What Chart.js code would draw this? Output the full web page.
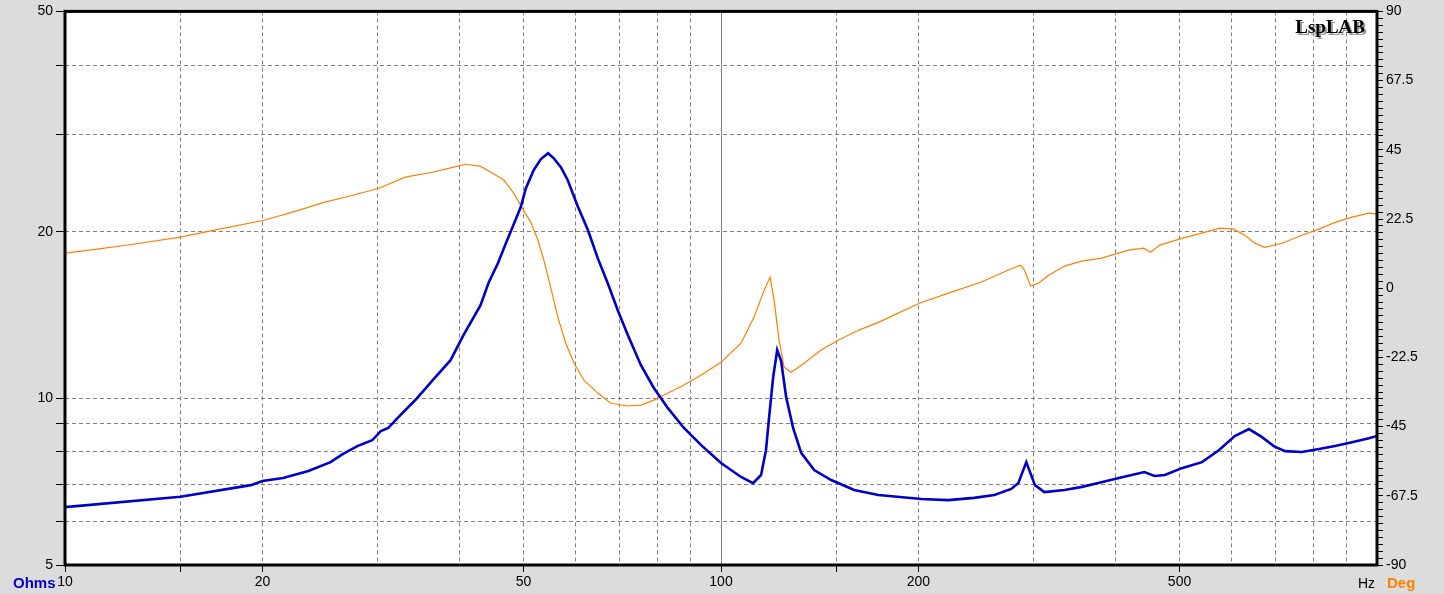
<!DOCTYPE html>
<html>
<head>
<meta charset="utf-8">
<script src="https://cdn.jsdelivr.net/npm/chart.js@4/dist/chart.umd.min.js"></script>
<style>
  html, body { margin: 0; padding: 0; background: #dcdcdc; }
  #wrap { width: 1444px; height: 594px; }
</style>
</head>
<body>
<div id="wrap"><canvas id="imp" width="1444" height="594"></canvas></div>
<script>
/* Impedance (Ohms) + phase (Deg) sweep, 10 Hz .. 1 kHz */

// impedance curve
const freqZ = [10, 15, 19.2, 20, 21.5, 23.5, 25.4, 26.5, 27.9, 29.4, 30.3, 31.1, 32.7, 34.2, 36.5,
  38.7, 40.5, 43.0, 44.2, 45.7, 47.0, 48.1, 49.5, 50.4, 51.8, 53.1, 54.5, 55.6, 57.0, 58.4,
  60.5, 62.7, 64.9, 67.2, 69.6, 72.1, 75.5, 79.0, 83.0, 87.8, 93.2, 100, 107.3, 111.9, 115.1,
  117.1, 118.4, 120.1, 121.8, 123.5, 125.7, 128.8, 132.5, 138.7, 147.2, 159.6, 173.7, 202, 222, 243,
  261, 277, 284, 292, 301, 311, 334, 355, 376, 404, 442, 458, 475, 504, 541,
  574, 607, 638, 668, 696, 724, 768, 816, 863, 916, 972, 1000];
const impedance = [6.36, 6.64, 6.97, 7.09, 7.18, 7.39, 7.67, 7.93, 8.20, 8.40, 8.73, 8.84, 9.41, 9.93, 10.84,
  11.72, 13.01, 14.73, 16.14, 17.54, 19.07, 20.37, 22.14, 23.95, 25.82, 27.03, 27.71, 27.14, 26.15, 24.78,
  22.2, 20.12, 17.9, 16.14, 14.43, 13.01, 11.48, 10.44, 9.60, 8.84, 8.24, 7.64, 7.21, 7.03, 7.27,
  8.06, 9.25, 10.92, 12.22, 11.68, 10.05, 8.84, 7.97, 7.42, 7.12, 6.83, 6.69, 6.58, 6.55, 6.61,
  6.69, 6.86, 7.03, 7.67, 6.97, 6.77, 6.83, 6.92, 7.03, 7.18, 7.36, 7.24, 7.27, 7.48, 7.67,
  8.06, 8.55, 8.80, 8.51, 8.20, 8.03, 8.00, 8.10, 8.20, 8.33, 8.47, 8.55];

// phase curve
const freqPh = [10, 11.2, 12.7, 15, 16.9, 20.1, 22.7, 24.8, 27.1, 30.1, 33.0, 36.3, 39.0, 40.8, 43.0,
  44.6, 46.7, 48.3, 50.0, 51.3, 52.6, 53.7, 55.0, 56.4, 58.0, 59.7, 61.8, 64.9, 67.9, 72.1,
  75.5, 79.0, 83.0, 87.8, 93.2, 100, 107.3, 112.3, 115.9, 118.8, 120.5, 122.6, 124.8, 127.9, 133.9,
  142.1, 150.9, 161.9, 173.7, 186.3, 200.6, 222.2, 249.4, 274.3, 286.1, 290.1, 296.4, 304.8, 315.7, 334,
  354.5, 380.4, 418.2, 441, 451.9, 466.4, 504, 540.5, 575.8, 604.9, 628.8, 651.2, 674.5, 716.1, 768.3,
  815.6, 863, 915.7, 972.3, 1000];
const phase = [11.4, 12.7, 14.3, 16.6, 18.9, 22.1, 25.3, 27.9, 29.9, 32.5, 36.1, 37.7, 39.3, 40.3, 39.6,
  37.7, 35.1, 30.9, 25.3, 21.4, 15.6, 9.1, 0.3, -9.4, -17.9, -24.4, -29.9, -34.1, -37.4, -38.3,
  -38.0, -36.4, -34.1, -31.5, -28.3, -24.1, -17.9, -9.4, -1.6, 3.6, -3.9, -16.9, -25.7, -27.3, -24.4,
  -20.1, -16.9, -13.7, -11.1, -8.1, -4.9, -1.6, 2.0, 5.9, 7.5, 5.9, 0.7, 1.6, 4.2, 7.2,
  8.8, 9.8, 12.4, 13.0, 11.7, 14.0, 16.2, 17.9, 19.5, 19.2, 17.2, 14.6, 13.3, 14.6, 17.2,
  19.2, 21.4, 23.1, 24.4, 24.1];

// axes
const xGrid = [10, 15, 20, 30, 40, 50, 60, 70, 80, 90, 100, 150, 200, 300, 400, 500, 600, 700, 800, 900, 1000];
const xLabels = [10, 20, 50, 100, 200, 500];
const xTickMarks = [10, 15, 20, 50, 100, 150, 200, 500];
const ohmGrid = [5, 6, 7, 8, 9, 10, 20, 30, 40, 50];
const ohmLabels = [5, 10, 20, 50];
const degMin = -90, degMax = 90, degMinor = 2.25, degMajor = 22.5;

const BLUE = '#0000c8';
const ORANGE = '#ff8000';
const GRID = '#808080';
const FONT = 'Liberation Sans, Arial, sans-serif';

const degTicks = [];
for (let i = 0; i <= (degMax - degMin) / degMinor; i++) {
  degTicks.push(Math.round((degMin + i * degMinor) * 100) / 100);
}
const isMajorDeg = v => Math.abs(v / degMajor - Math.round(v / degMajor)) < 1e-6;

const frame = {
  id: 'frame',
  beforeDraw(chart) {
    const { ctx, chartArea: a } = chart;
    ctx.save();
    ctx.fillStyle = '#dcdcdc';
    ctx.fillRect(0, 0, chart.width, chart.height);
    ctx.fillStyle = '#ffffff';
    ctx.fillRect(a.left, a.top, a.right - a.left, a.bottom - a.top);
    ctx.restore();
  },
  beforeDatasetsDraw(chart) {
    // solid line at 100 Hz
    const { ctx, chartArea: a } = chart;
    const x = Math.round(chart.scales.x.getPixelForValue(100)) + 0.5;
    ctx.save();
    ctx.strokeStyle = GRID;
    ctx.lineWidth = 1;
    ctx.beginPath();
    ctx.moveTo(x, a.top);
    ctx.lineTo(x, a.bottom);
    ctx.stroke();
    ctx.restore();
  },
  afterDraw(chart) {
    const { ctx, chartArea: a } = chart;
    ctx.save();
    ctx.strokeStyle = '#000';
    ctx.lineWidth = 3;
    ctx.strokeRect(a.left, a.top, a.right - a.left, a.bottom - a.top);

    ctx.textBaseline = 'alphabetic';
    ctx.font = 'bold 15px ' + FONT;
    ctx.fillStyle = BLUE;
    ctx.textAlign = 'left';
    ctx.fillText('Ohms', 13, 588);
    ctx.fillStyle = ORANGE;
    ctx.fillText('Deg', 1387, 588);
    ctx.font = '14px ' + FONT;
    ctx.fillStyle = '#000';
    ctx.fillText('Hz', 1358, 588);

    ctx.font = 'bold 19px "Liberation Serif", "Times New Roman", serif';
    ctx.textAlign = 'right';
    ctx.fillStyle = '#9a9a9a';
    ctx.fillText('LspLAB', a.right - 10, 35);
    ctx.fillStyle = '#000';
    ctx.fillText('LspLAB', a.right - 12, 33);
    ctx.restore();
  }
};

const tickFont = { family: FONT, size: 14 };

new Chart(document.getElementById('imp'), {
  type: 'line',
  data: {
    datasets: [
      {
        label: 'Ohms',
        data: freqZ.map((f, i) => ({ x: f, y: impedance[i] })),
        borderColor: BLUE,
        borderWidth: 2.6,
        pointRadius: 0,
        tension: 0,
        yAxisID: 'y'
      },
      {
        label: 'Deg',
        data: freqPh.map((f, i) => ({ x: f, y: phase[i] })),
        borderColor: ORANGE,
        borderWidth: 1.2,
        pointRadius: 0,
        tension: 0,
        yAxisID: 'y2'
      }
    ]
  },
  options: {
    responsive: false,
    devicePixelRatio: 1,
    animation: false,
    events: [],
    layout: { padding: { top: 11, right: 0, left: 0, bottom: 0 } },
    plugins: { legend: { display: false }, tooltip: { enabled: false } },
    scales: {
      x: {
        type: 'logarithmic',
        position: 'bottom',
        min: 10,
        max: 1000,
        afterBuildTicks: s => { s.ticks = xGrid.map(v => ({ value: v })); },
        afterFit: s => { s.height = 29; },
        grid: {
          color: GRID,
          lineWidth: 1,
          tickLength: 7,
          tickColor: c => (c.tick && xTickMarks.includes(c.tick.value)) ? '#000' : 'rgba(0,0,0,0)'
        },
        border: { display: false, dash: [4, 3] },
        ticks: {
          autoSkip: false,
          maxRotation: 0,
          padding: 2,
          color: '#000',
          font: tickFont,
          callback: v => xLabels.includes(v) ? String(v) : ''
        }
      },
      y: {
        type: 'logarithmic',
        position: 'left',
        min: 5,
        max: 50,
        afterBuildTicks: s => { s.ticks = ohmGrid.map(v => ({ value: v })); },
        afterFit: s => { s.width = 65; },
        grid: { color: GRID, lineWidth: 1, tickLength: 9, tickColor: '#000' },
        border: { display: false, dash: [4, 3] },
        ticks: {
          autoSkip: false,
          padding: 3,
          color: '#000',
          font: tickFont,
          callback: v => ohmLabels.includes(v) ? String(v) : ''
        }
      },
      y2: {
        type: 'linear',
        position: 'right',
        min: degMin,
        max: degMax,
        afterBuildTicks: s => { s.ticks = degTicks.map(v => ({ value: v })); },
        afterFit: s => { s.width = 67; },
        grid: { drawOnChartArea: false, tickLength: 6, tickColor: '#000', lineWidth: 1 },
        border: { display: false },
        ticks: {
          autoSkip: false,
          padding: 3,
          color: '#000',
          font: tickFont,
          callback: v => isMajorDeg(v) ? String(v) : ''
        }
      }
    }
  },
  plugins: [frame]
});
</script>
</body>
</html>
